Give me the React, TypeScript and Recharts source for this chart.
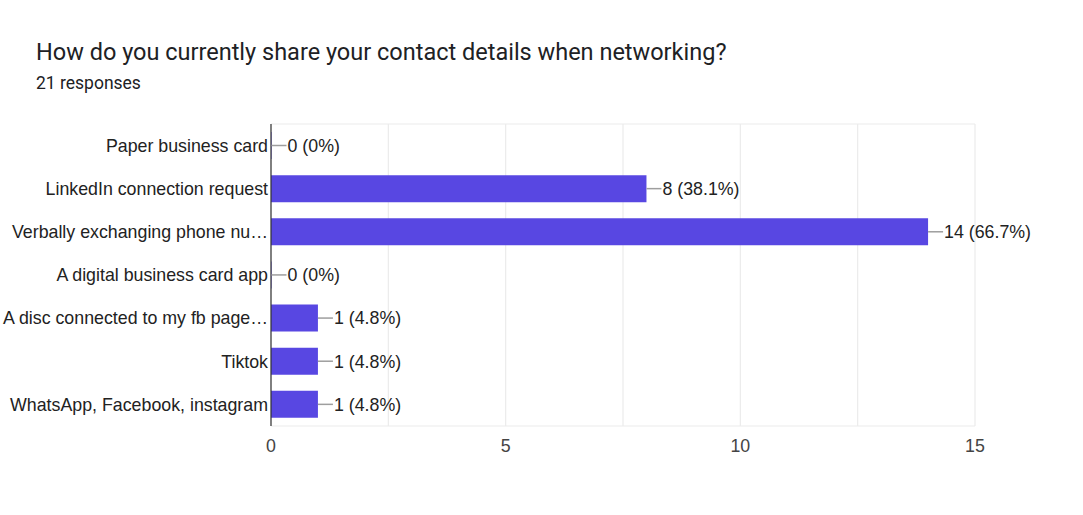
import React from 'react';
import { BarChart, Bar, XAxis, YAxis, CartesianGrid, LabelList } from 'recharts';

const categories = [
    'Paper business card',
    'LinkedIn connection request',
    'Verbally exchanging phone nu…',
    'A digital business card app',
    'A disc connected to my fb page…',
    'Tiktok',
    'WhatsApp, Facebook, instagram',
];
const counts = [0, 8, 14, 0, 1, 1, 1];
const percents = ['0%', '38.1%', '66.7%', '0%', '4.8%', '4.8%', '4.8%'];
// grid at every 2.5, labels only on the whole fives
const gridTicks = [0, 2.5, 5, 7.5, 10, 12.5, 15];
const labelledTicks = [0, 5, 10, 15];

const data = categories.map((name, i) => ({
    name,
    value: counts[i],
    label: `${counts[i]} (${percents[i]})`,
}));

const TITLE_FONT = 'Roboto, sans-serif';
const FONT = '"Liberation Sans", Arial, sans-serif';
const FS = 17.8;

const ValueLabel = (props: any) => {
    const { x, y, width, height, value } = props;
    const endX = x + width;
    const cy = y + height / 2;
    return (
        <g>
            <line x1={endX} y1={cy} x2={endX + 15} y2={cy} stroke="#9e9e9e" strokeWidth={1.5} />
            <text x={endX + 16} y={cy} dy="0.36em" fontSize={FS} fill="#222" fontFamily={FONT}>
                {value}
            </text>
        </g>
    );
};

const App: React.FC = () => {
    return (
        <div style={{ position: 'absolute', left: 0, top: 0, width: 1083, height: 515, background: '#fff' }}>
            <div style={{ position: 'absolute', left: 36, top: 38, fontSize: 23.5, color: '#202124', fontFamily: TITLE_FONT, whiteSpace: 'nowrap' }}>
                How do you currently share your contact details when networking?
            </div>
            <div style={{ position: 'absolute', left: 36, top: 73, fontSize: 17.5, color: '#202124', fontFamily: TITLE_FONT }}>
                21 responses
            </div>
            <div style={{ position: 'absolute', left: 0, top: 0 }}>
                <BarChart
                    width={1083}
                    height={515}
                    data={data}
                    layout="vertical"
                    margin={{ top: 124, right: 108, left: 0, bottom: 59 }}
                    barCategoryGap={8}
                >
                    <CartesianGrid
                        stroke="#ebebeb"
                        strokeWidth={1.2}
                        horizontalCoordinatesGenerator={(p: any) =>
                            p && p.offset ? [p.offset.top, p.offset.top + p.offset.height] : []
                        }
                    />
                    <XAxis
                        type="number"
                        domain={[0, 15]}
                        ticks={gridTicks}
                        interval={0}
                        tickFormatter={(v: number) => (labelledTicks.includes(v) ? String(v) : '')}
                        axisLine={false}
                        tickLine={false}
                        tickSize={0}
                        tickMargin={13}
                        height={30}
                        tick={{ fontSize: FS, fill: '#444', fontFamily: FONT }}
                    />
                    <YAxis
                        type="category"
                        dataKey="name"
                        width={271}
                        axisLine={{ stroke: '#333', strokeWidth: 1.2 }}
                        tickLine={false}
                        tickSize={0}
                        tickMargin={3}
                        interval={0}
                        tick={{ fontSize: FS, fill: '#222', fontFamily: FONT }}
                    />
                    <Bar dataKey="value" fill="#5847e2" minPointSize={0.5} isAnimationActive={false}>
                        <LabelList dataKey="label" content={<ValueLabel />} />
                    </Bar>
                </BarChart>
            </div>
        </div>
    );
};

export default App;
